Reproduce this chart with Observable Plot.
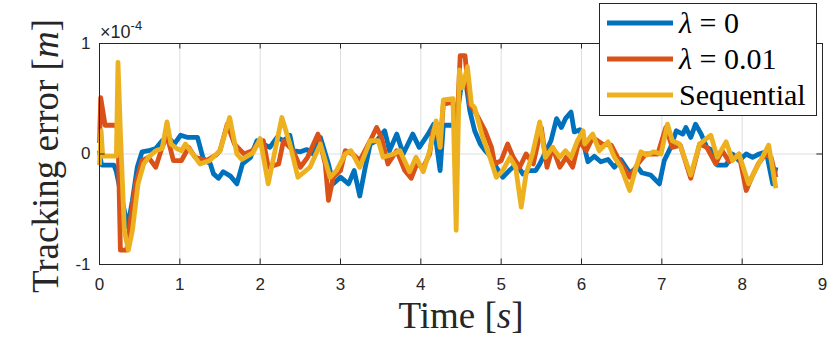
<!DOCTYPE html>
<html><head><meta charset="utf-8">
<script src="https://cdn.jsdelivr.net/npm/d3@7"></script>
<script src="https://cdn.jsdelivr.net/npm/@observablehq/plot@0.6"></script>
<style>
body{margin:0;background:#fff;}
#wrap{position:relative;width:830px;height:341px;overflow:hidden;}
</style></head><body><div id="wrap"></div>
<script>
// Tracking error in units of 1e-4 m
const seriesNames = ["λ = 0", "λ = 0.01", "Sequential"];
const seriesColors = ["#0072BD", "#D95319", "#EDB120"];
const xTicks = [0,1,2,3,4,5,6,7,8,9];
const yTicks = [-1,0,1];

const tBlue = [0.0,0.02,0.03,0.18,0.21,0.25,0.35,0.41,0.47,0.53,0.61,0.70,0.78,0.86,0.93,1.01,1.10,1.18,1.22,1.29,1.38,1.42,1.48,1.54,1.63,1.71,1.78,1.88,1.96,2.04,2.12,2.21,2.29,2.37,2.41,2.50,2.58,2.66,2.75,2.80,2.85,2.91,3.00,3.10,3.17,3.24,3.30,3.37,3.45,3.55,3.61,3.70,3.78,3.90,3.98,4.09,4.16,4.24,4.28,4.40,4.45,4.51,4.57,4.61,4.67,4.74,4.80,4.88,4.94,5.02,5.10,5.19,5.27,5.35,5.43,5.48,5.56,5.62,5.69,5.75,5.80,5.87,5.91,5.98,6.04,6.08,6.16,6.24,6.33,6.41,6.49,6.60,6.70,6.75,6.86,6.97,7.03,7.11,7.18,7.26,7.30,7.36,7.42,7.49,7.56,7.63,7.69,7.80,7.88,7.96,8.05,8.13,8.21,8.30,8.38,8.42];
const vBlue = [0.03,-0.08,-0.10,-0.10,-0.16,-0.30,-0.66,-0.42,-0.12,0.02,0.03,0.05,0.12,0.15,0.09,0.17,0.15,0.15,0.15,-0.04,-0.09,-0.18,-0.22,-0.16,-0.20,-0.27,-0.09,-0.03,0.12,0.09,0.06,0.15,0.12,0.17,0.03,0.02,0.04,0.00,0.15,0.03,-0.09,-0.27,-0.21,-0.27,-0.15,-0.38,-0.15,0.09,0.12,0.21,0.03,0.18,0.00,0.18,0.06,0.18,0.27,-0.15,0.26,0.26,0.35,0.65,0.60,0.39,0.21,0.09,0.03,-0.03,-0.12,-0.21,-0.15,-0.09,-0.18,-0.15,-0.15,-0.09,0.03,0.12,0.32,0.24,0.32,0.38,0.20,0.22,0.05,-0.07,-0.02,-0.07,-0.05,-0.12,-0.05,-0.17,-0.12,-0.17,-0.19,-0.27,-0.06,0.06,0.21,0.18,0.24,0.15,0.27,0.18,0.06,0.03,-0.10,-0.10,0.00,-0.06,0.00,-0.03,0.00,0.02,-0.27,-0.12];

const tRed = [0.0,0.015,0.05,0.07,0.21,0.23,0.26,0.34,0.39,0.45,0.53,0.61,0.70,0.78,0.84,0.92,1.02,1.11,1.19,1.33,1.45,1.50,1.59,1.68,1.80,1.90,2.00,2.04,2.10,2.23,2.29,2.41,2.50,2.59,2.72,2.81,2.85,2.91,3.00,3.06,3.15,3.24,3.37,3.45,3.51,3.59,3.70,3.80,3.88,3.95,4.03,4.11,4.15,4.20,4.24,4.28,4.40,4.44,4.49,4.55,4.61,4.67,4.80,4.88,4.92,5.00,5.08,5.15,5.23,5.31,5.40,5.50,5.57,5.64,5.73,5.81,5.89,5.97,6.06,6.14,6.26,6.37,6.47,6.60,6.70,6.80,6.95,7.05,7.13,7.23,7.36,7.47,7.56,7.67,7.75,7.84,7.96,8.05,8.12,8.20,8.28,8.36,8.42];
const vRed = [0.10,0.51,0.35,0.26,0.26,0.20,-0.87,-0.87,-0.57,-0.27,-0.06,-0.03,-0.12,0.06,0.17,-0.06,-0.06,0.06,-0.03,-0.06,-0.01,0.03,0.27,0.09,0.00,0.03,0.11,0.12,-0.12,-0.09,0.12,0.03,-0.12,-0.03,0.18,-0.09,-0.42,-0.21,-0.15,0.03,0.00,-0.06,0.12,0.24,0.15,-0.09,0.03,-0.15,-0.22,-0.09,-0.12,0.00,0.21,0.27,0.06,0.45,0.47,0.10,0.89,0.89,0.45,0.39,0.21,0.06,-0.09,-0.06,0.09,-0.03,-0.12,0.00,-0.09,0.24,-0.12,0.06,-0.12,-0.03,-0.12,0.12,0.03,0.15,0.09,0.08,-0.06,-0.21,-0.09,0.00,0.00,0.24,0.06,0.08,-0.22,0.09,0.06,-0.09,0.03,-0.07,0.00,-0.33,-0.21,-0.09,-0.01,-0.03,-0.21];

const tSeq = [0.0,0.02,0.04,0.21,0.23,0.26,0.31,0.36,0.41,0.48,0.55,0.61,0.70,0.78,0.84,0.89,0.96,1.02,1.07,1.13,1.25,1.37,1.50,1.62,1.71,1.77,1.91,2.00,2.10,2.27,2.37,2.47,2.62,2.75,2.87,2.95,3.06,3.13,3.24,3.37,3.47,3.53,3.66,3.74,3.86,3.94,4.03,4.11,4.19,4.24,4.28,4.40,4.44,4.48,4.52,4.58,4.63,4.67,4.77,4.86,4.94,5.02,5.11,5.18,5.25,5.31,5.39,5.48,5.55,5.64,5.73,5.80,5.87,5.95,6.02,6.04,6.14,6.22,6.33,6.41,6.49,6.60,6.68,6.74,6.81,6.90,6.99,7.07,7.13,7.22,7.36,7.47,7.61,7.69,7.80,7.88,7.96,8.08,8.16,8.25,8.33,8.42];
const vSeq = [-0.10,0.21,-0.02,-0.02,0.83,0.20,-0.70,-0.87,-0.69,-0.27,-0.09,-0.03,0.03,0.05,0.29,0.09,0.05,0.03,0.09,0.03,-0.09,-0.06,0.03,0.33,0.00,-0.05,0.01,0.14,-0.27,0.33,0.09,-0.21,-0.12,0.09,-0.21,-0.15,0.00,0.03,-0.12,0.12,0.12,-0.03,0.00,0.03,-0.16,-0.03,-0.16,0.03,0.30,0.06,0.49,0.50,-0.69,0.76,0.60,0.79,0.45,0.42,0.15,-0.03,-0.21,-0.15,-0.03,-0.12,-0.48,-0.18,0.00,0.29,-0.03,0.06,-0.03,0.03,-0.03,0.12,0.21,0.09,0.18,0.03,0.11,-0.03,-0.12,-0.33,-0.12,0.02,-0.01,0.02,0.00,0.27,0.12,0.09,-0.19,0.09,0.17,-0.03,0.11,-0.06,0.00,-0.27,-0.15,-0.03,0.08,-0.31];

const seriesT = [tBlue, tRed, tSeq];
const seriesV = [vBlue, vRed, vSeq];
const data = seriesNames.flatMap((name, k) => seriesT[k].map((t, i) => ({t, v: seriesV[k][i], name})));

const axisColor = "#262626";
const chart = Plot.plot({
  width: 830, height: 341,
  marginLeft: 99, marginRight: 8, marginTop: 43, marginBottom: 77,
  x: {domain: [0, 9], ticks: xTicks, tickSize: 0, tickPadding: 13, label: null, tickFormat: d => String(d)},
  y: {domain: [-1, 1], ticks: yTicks, tickSize: 0, tickPadding: 9, label: null, tickFormat: d => String(d)},
  color: {domain: seriesNames, range: seriesColors},
  style: {fontFamily: "'Liberation Sans', Arial, sans-serif", fontSize: "17px", color: axisColor, background: "white", overflow: "visible"},
  marks: [
    Plot.ruleX(xTicks, {stroke: "#dedede", strokeOpacity: 1, strokeWidth: 1}),
    Plot.ruleY([0], {stroke: "#dedede", strokeOpacity: 1, strokeWidth: 1}),
    Plot.line(data, {x: "t", y: "v", z: "name", stroke: "name", strokeWidth: 4.8, strokeLinejoin: "round", strokeLinecap: "butt"}),
    Plot.ruleX(xTicks, {y1: -1, y2: -0.95, stroke: axisColor}),
    Plot.ruleX(xTicks, {y1: 1, y2: 0.95, stroke: axisColor}),
    Plot.ruleY(yTicks, {x1: 0, x2: 0.07, stroke: axisColor}),
    Plot.ruleY(yTicks, {x1: 9, x2: 8.93, stroke: axisColor}),
    Plot.frame({stroke: axisColor, strokeWidth: 1})
  ]
});
document.getElementById("wrap").appendChild(chart);

const svg = d3.select(chart);
const serif = "'Liberation Serif', 'Times New Roman', serif";
// exponent label
const ex = svg.append("text").attr("x", 100).attr("y", 38).attr("text-anchor", "start")
  .attr("font-family", "'Liberation Sans', Arial, sans-serif").attr("font-size", 18).attr("fill", axisColor);
ex.append("tspan").text("×10");
ex.append("tspan").attr("font-size", 13).attr("dy", -8).text("-4");

// axis labels
const yl = svg.append("text").attr("transform", "translate(58,156) rotate(-90)").attr("text-anchor", "middle")
  .attr("font-family", serif).attr("font-size", 37).attr("fill", axisColor);
yl.append("tspan").text("Tracking error [");
yl.append("tspan").attr("font-style", "italic").text("m");
yl.append("tspan").text("]");
const xl = svg.append("text").attr("x", 461).attr("y", 328).attr("text-anchor", "middle")
  .attr("font-family", serif).attr("font-size", 37).attr("fill", axisColor);
xl.append("tspan").text("Time [");
xl.append("tspan").attr("font-style", "italic").text("s");
xl.append("tspan").text("]");

// legend
const lg = svg.append("g");
lg.append("rect").attr("x", 599.5).attr("y", 3.5).attr("width", 217).attr("height", 112)
  .attr("fill", "white").attr("stroke", axisColor).attr("stroke-width", 1);
const rowsY = [23, 59, 95];
seriesNames.forEach((name, i) => {
  lg.append("line").attr("x1", 607).attr("x2", 673).attr("y1", rowsY[i]).attr("y2", rowsY[i])
    .attr("stroke", seriesColors[i]).attr("stroke-width", 4.8);
  const tx = lg.append("text").attr("x", 679).attr("y", rowsY[i] + 10).attr("text-anchor", "start")
    .attr("font-family", serif).attr("font-size", 30).attr("fill", "#000");
  if (name.startsWith("λ")) {
    tx.append("tspan").attr("font-style", "italic").text("λ");
    tx.append("tspan").text(name.slice(1));
  } else {
    tx.text(name);
  }
});
</script>
</body></html>
